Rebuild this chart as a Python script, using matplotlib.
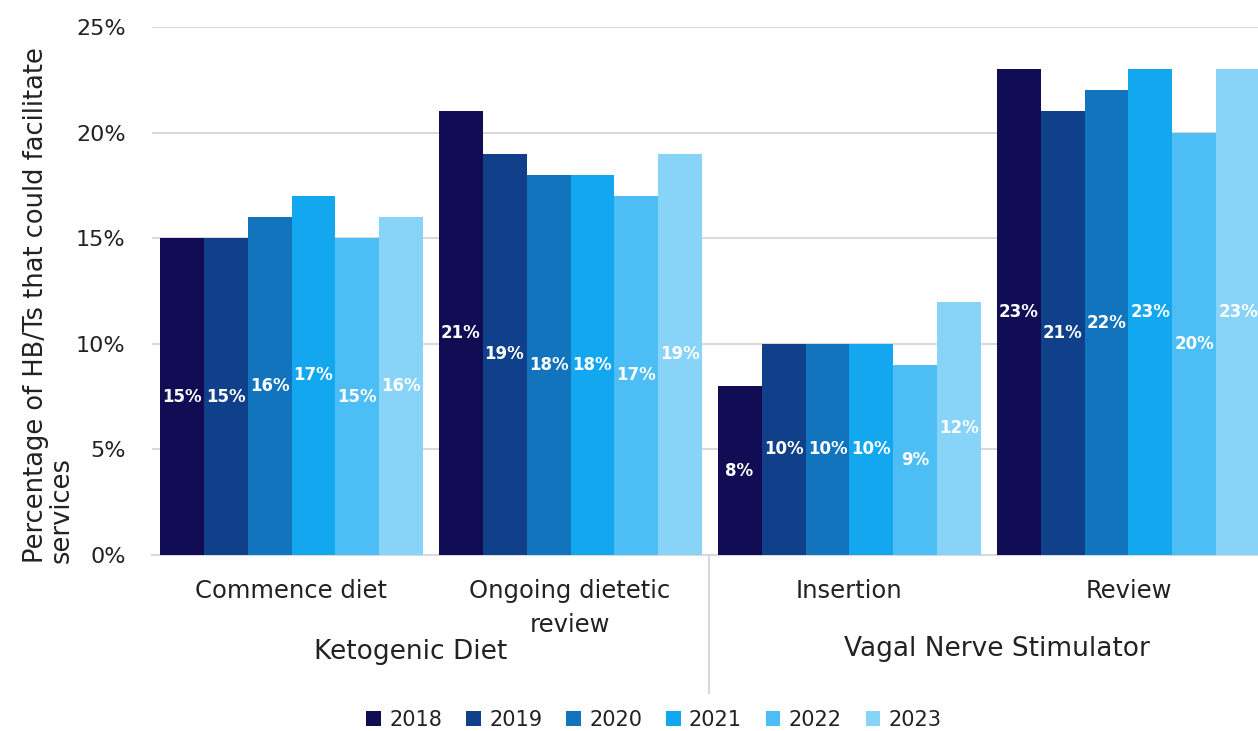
import numpy as np
import matplotlib.pyplot as plt

plt.rcParams['font.family'] = ['DejaVu Sans']

# data
categories = ['Commence diet', 'Ongoing dietetic\nreview', 'Insertion', 'Review']
groups = ['Ketogenic Diet', 'Vagal Nerve Stimulator']
years = ['2018', '2019', '2020', '2021', '2022', '2023']
v2018 = [15, 21, 8, 23]
v2019 = [15, 19, 10, 21]
v2020 = [16, 18, 10, 22]
v2021 = [17, 18, 10, 23]
v2022 = [15, 17, 9, 20]
v2023 = [16, 19, 12, 23]
series = [v2018, v2019, v2020, v2021, v2022, v2023]
colors = ['#100d55', '#10408a', '#1174bd', '#13a7f0', '#4dbdf5', '#88d3f8']

fig = plt.figure(figsize=(12.58, 7.31), dpi=100)
ax = fig.add_axes([152 / 1258, 1 - 555 / 731, (1268 - 152) / 1258, (555 - 27) / 731])

x = np.arange(len(categories))
w = 0.946 / len(years)
for i, (yr, vals) in enumerate(zip(years, series)):
    pos = x - 0.473 + w * (i + 0.5)
    bars = ax.bar(pos, vals, width=w, color=colors[i], label=yr, zorder=3)
    for b, v in zip(bars, vals):
        ax.text(b.get_x() + b.get_width() / 2, v / 2, f'{v}%', ha='center', va='center',
                color='white', fontsize=12, fontweight='bold', zorder=4)

ax.set_xlim(-0.5, len(categories) - 0.5)
ax.set_ylim(0, 25)
ax.set_yticks(range(0, 26, 5))
ax.set_yticklabels([f'{t}%' for t in range(0, 26, 5)], fontsize=16, color='#222222')
ax.yaxis.grid(True, color='#d9d9d9', linewidth=1.5, zorder=0)
ax.tick_params(axis='y', length=0, pad=19)
ax.set_xticks([])
for s in ['top', 'right', 'left']:
    ax.spines[s].set_visible(False)
ax.spines['bottom'].set_color('#d9d9d9')
ax.spines['bottom'].set_linewidth(1.5)

# category and group labels below the axis
trans = fig.transFigure
cat_px = [291, 570, 849, 1129]
for px, c in zip(cat_px, categories):
    for k, ln in enumerate(c.split('\n')):
        fig.text(px / 1258, 1 - (591 + 34 * k) / 731, ln, ha='center', va='center',
                 fontsize=17.5, color='#222222')
fig.text(411 / 1258, 1 - 652 / 731, groups[0], ha='center', va='center', fontsize=19, color='#222222')
fig.text(997 / 1258, 1 - 649 / 731, groups[1], ha='center', va='center', fontsize=19, color='#222222')
fig.add_artist(plt.Line2D([709 / 1258, 709 / 1258], [1 - 555 / 731, 1 - 693 / 731],
                          color='#d9d9d9', linewidth=1.5, transform=trans))

fig.text(49 / 1258, 1 - 305 / 731, 'Percentage of HB/Ts that could facilitate\nservices',
         rotation=90, ha='center', va='center', fontsize=18.5, color='#222222',
         multialignment='left', linespacing=1.0)

ax.legend(loc='center', bbox_to_anchor=(654 / 1258, 1 - 720 / 731), bbox_transform=trans,
          ncol=6, frameon=False, fontsize=15, handlelength=0.7, handleheight=0.7,
          handletextpad=0.4, columnspacing=1.15, labelcolor='#222222')

fig.savefig('out.png', dpi=100)
